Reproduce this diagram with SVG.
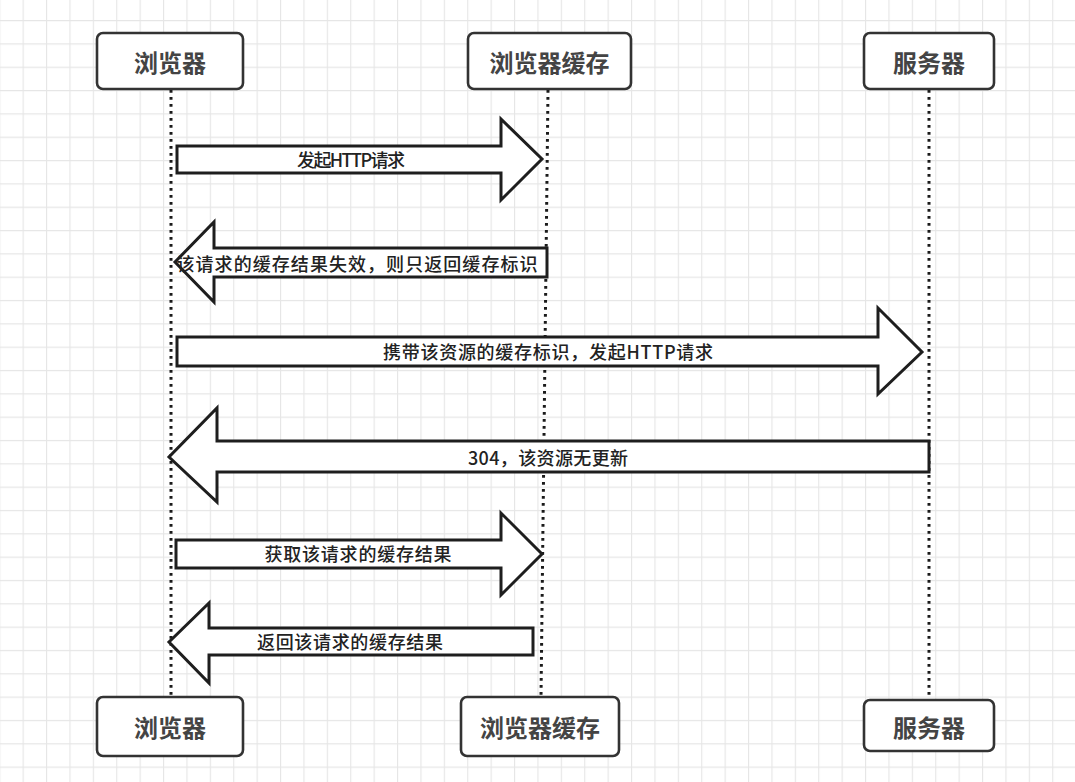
<svg xmlns="http://www.w3.org/2000/svg" width="1075" height="782" viewBox="0 0 1075 782">
  <defs>
    <pattern id="grid" patternUnits="userSpaceOnUse" x="22.6" y="20" width="23.4" height="23.33">
      <path d="M0.5 0 V23.33 M0 0.5 H23.4" fill="none" stroke="#e6e6e6" stroke-width="1.3"/>
    </pattern>
    <style>
      .box { fill: #ffffff; stroke: #333333; stroke-width: 2.6; }
      .boxlabel { font-family: "Noto Sans CJK SC", "Liberation Sans", sans-serif; font-size: 24px; font-weight: bold; fill: #444444; text-anchor: middle; dominant-baseline: central; }
      .life { fill: none; stroke: #1a1a1a; stroke-width: 3; stroke-dasharray: 2.8 4.2; }
      .arrow { fill: #ffffff; stroke: #1e1e1e; stroke-width: 3; stroke-linejoin: miter; }
      .alabel { font-family: "Noto Sans CJK SC", "Liberation Sans", sans-serif; font-size: 18px; font-weight: 500; fill: #222222; text-anchor: middle; dominant-baseline: central; }
    </style>
  </defs>
  <rect x="0" y="0" width="1075" height="782" fill="#ffffff"/>
  <rect x="0" y="0" width="1075" height="782" fill="url(#grid)"/>

  <g id="lifelines">
    <line class="life" x1="171" y1="90" x2="171" y2="697"/>
    <line class="life" x1="548" y1="90" x2="541" y2="697"/>
    <line class="life" x1="929" y1="90" x2="929" y2="700"/>
  </g>

  <g id="node-browser-top">
    <rect class="box" x="97" y="33" width="146" height="56" rx="6"/>
    <text class="boxlabel" x="170" y="61">浏览器</text>
  </g>
  <g id="node-cache-top">
    <rect class="box" x="468" y="33" width="163" height="56" rx="6"/>
    <text class="boxlabel" x="549.5" y="61">浏览器缓存</text>
  </g>
  <g id="node-server-top">
    <rect class="box" x="864" y="33" width="130" height="56" rx="6"/>
    <text class="boxlabel" x="929" y="61">服务器</text>
  </g>
  <g id="node-browser-bottom">
    <rect class="box" x="97" y="697" width="146" height="59" rx="6"/>
    <text class="boxlabel" x="170" y="726">浏览器</text>
  </g>
  <g id="node-cache-bottom">
    <rect class="box" x="461" y="697" width="158" height="59" rx="6"/>
    <text class="boxlabel" x="540" y="726">浏览器缓存</text>
  </g>
  <g id="node-server-bottom">
    <rect class="box" x="864" y="700" width="130" height="51" rx="6"/>
    <text class="boxlabel" x="929" y="726">服务器</text>
  </g>

  <g id="connectors">
    <g id="msg1">
      <polygon class="arrow" points="177,146 501,146 501,119 542,159 501,200 501,173 177,173"/>
      <text class="alabel" x="351" y="159" textLength="108" lengthAdjust="spacing">发起HTTP请求</text>
    </g>
    <g id="msg2">
      <polygon class="arrow" points="547,248 214,248 214,222 175,262 214,302 214,277 547,277"/>
      <text class="alabel" x="357" y="263" textLength="361" lengthAdjust="spacing">该请求的缓存结果失效，则只返回缓存标识</text>
    </g>
    <g id="msg3">
      <polygon class="arrow" points="177,337 878,337 878,308 922,352 878,394 878,366 177,366"/>
      <text class="alabel" x="548" y="351" textLength="330" lengthAdjust="spacing">携带该资源的缓存标识，发起HTTP请求</text>
    </g>
    <g id="msg4">
      <polygon class="arrow" points="929,441 217,441 217,408 169,457 217,502 217,472 929,472"/>
      <text class="alabel" x="548" y="457" textLength="160" lengthAdjust="spacing">304，该资源无更新</text>
    </g>
    <g id="msg5">
      <polygon class="arrow" points="176,540 501,540 501,513 542,554 501,595 501,568 176,568"/>
      <text class="alabel" x="358" y="553" textLength="187" lengthAdjust="spacing">获取该请求的缓存结果</text>
    </g>
    <g id="msg6">
      <polygon class="arrow" points="533,628 209,628 209,603 169,642 209,683 209,655 533,655"/>
      <text class="alabel" x="350" y="641" textLength="186" lengthAdjust="spacing">返回该请求的缓存结果</text>
    </g>
  </g>
</svg>
